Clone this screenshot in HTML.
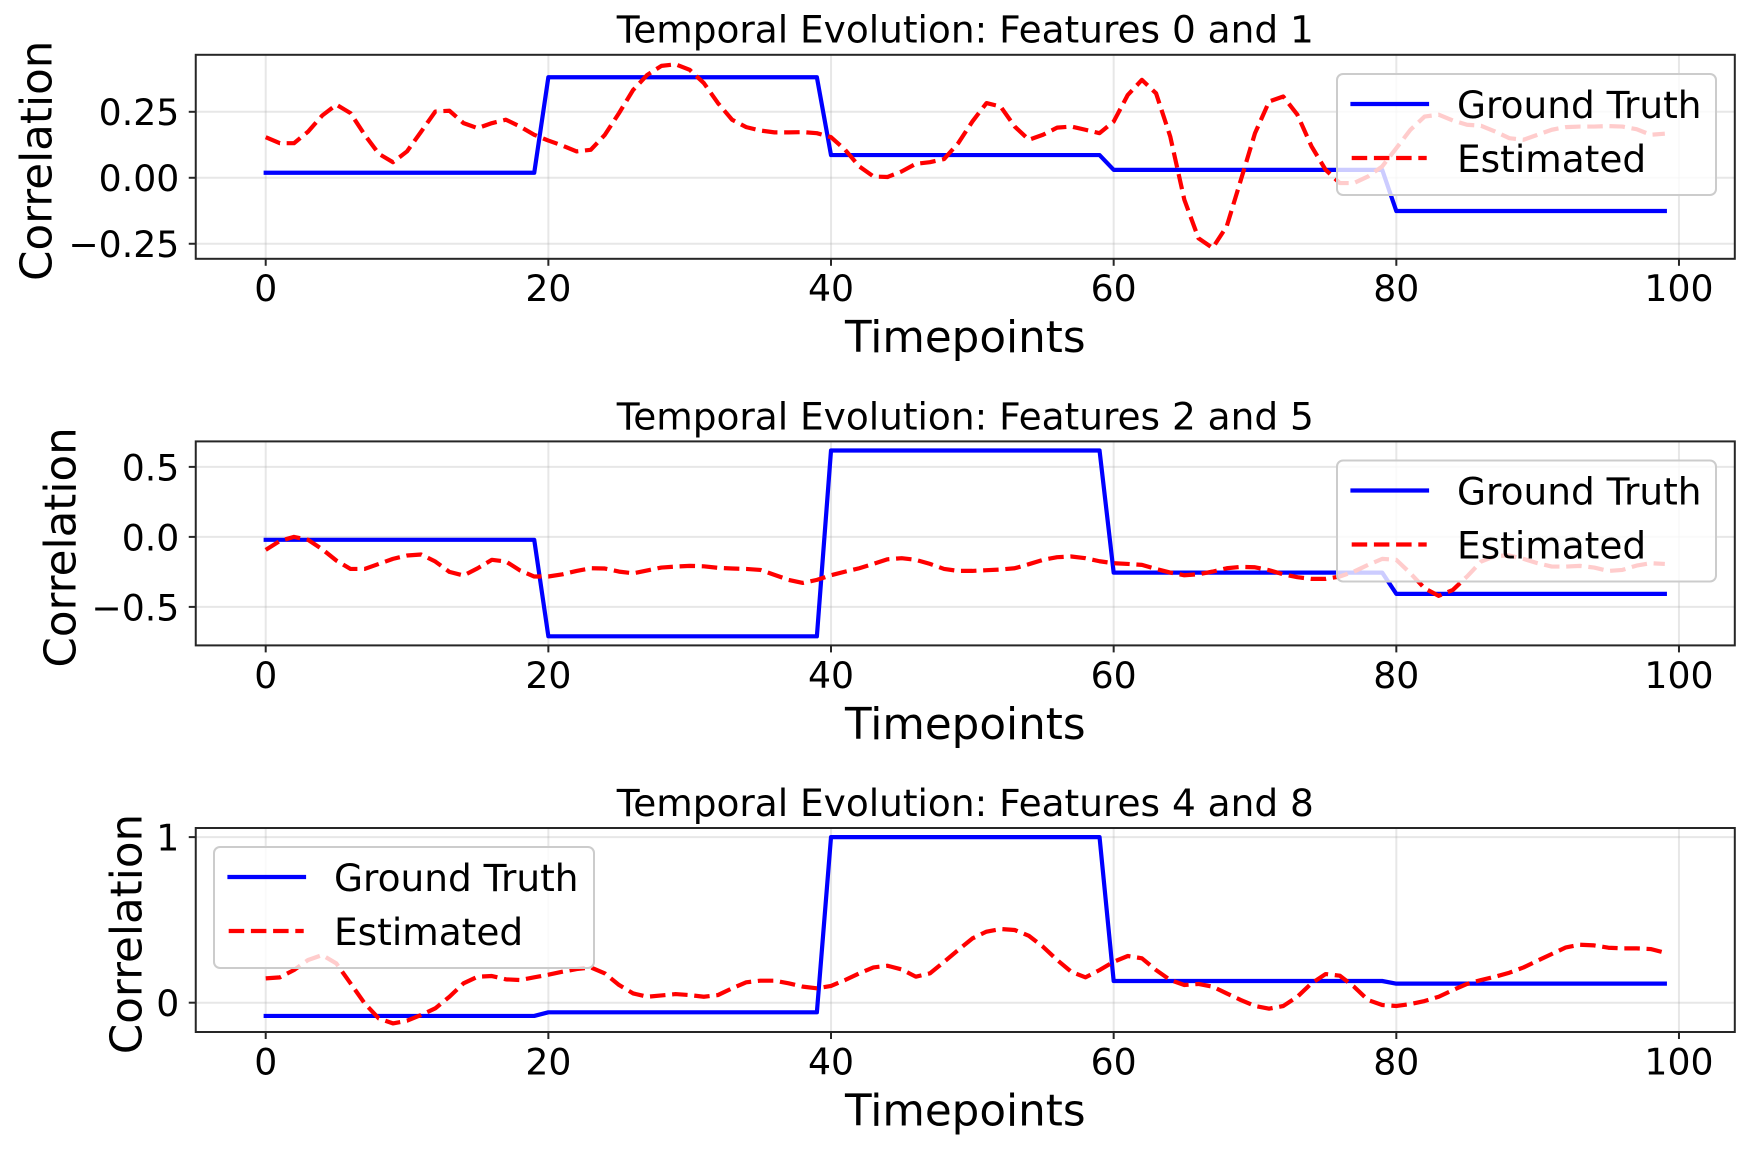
<!DOCTYPE html>
<html lang="en">
<head>
<meta charset="utf-8">
<title>Temporal Evolution of Feature Correlations</title>
<style>
  html, body { margin: 0; padding: 0; background: #fff; }
  svg { display: block; font-family: "DejaVu Sans", "Liberation Sans", sans-serif; }
</style>
</head>
<body>
<svg id="figure" xmlns="http://www.w3.org/2000/svg" width="1749" height="1149" viewBox="0 0 1749 1149"></svg>
<script>
const xTickValues = [0, 20, 40, 60, 80, 100];
const legendLabels = ["Ground Truth", "Estimated"];

const panelTitles = ["Temporal Evolution: Features 0 and 1", "Temporal Evolution: Features 2 and 5", "Temporal Evolution: Features 4 and 8"];

const yTicks0 = [-0.25, 0, 0.25];
const yTickLabels0 = ["\u22120.25", "0.00", "0.25"];
const yTicks1 = [-0.5, 0, 0.5];
const yTickLabels1 = ["\u22120.5", "0.0", "0.5"];
const yTicks2 = [0, 1];
const yTickLabels2 = ["0", "1"];

const groundTruth0 = [
0.019,0.019,0.019,0.019,0.019,0.019,0.019,0.019,0.019,0.019,0.019,0.019,0.019,0.019,0.019,0.019,0.019,0.019,0.019,0.019,
0.381,0.381,0.381,0.381,0.381,0.381,0.381,0.381,0.381,0.381,0.381,0.381,0.381,0.381,0.381,0.381,0.381,0.381,0.381,0.381,
0.086,0.086,0.086,0.086,0.086,0.086,0.086,0.086,0.086,0.086,0.086,0.086,0.086,0.086,0.086,0.086,0.086,0.086,0.086,0.086,
0.03,0.03,0.03,0.03,0.03,0.03,0.03,0.03,0.03,0.03,0.03,0.03,0.03,0.03,0.03,0.03,0.03,0.03,0.03,0.03,
-0.126,-0.126,-0.126,-0.126,-0.126,-0.126,-0.126,-0.126,-0.126,-0.126,-0.126,-0.126,-0.126,-0.126,-0.126,-0.126,-0.126,-0.126,-0.126,-0.126];
const estimated0 = [
0.154,0.131,0.131,0.175,0.236,0.277,0.245,0.163,0.091,0.059,
0.1,0.175,0.251,0.254,0.207,0.188,0.207,0.22,0.194,0.163,
0.141,0.122,0.1,0.106,0.163,0.245,0.333,0.39,0.424,0.43,
0.409,0.359,0.283,0.22,0.192,0.179,0.172,0.172,0.173,0.169,
0.154,0.106,0.043,0.005,0.003,0.024,0.053,0.059,0.071,0.131,
0.213,0.283,0.27,0.194,0.144,0.163,0.19,0.194,0.182,0.169,
0.213,0.314,0.371,0.32,0.157,-0.083,-0.229,-0.266,-0.184,-0.008,
0.169,0.289,0.308,0.239,0.119,0.03,-0.02,-0.02,0.005,0.043,
0.112,0.182,0.232,0.239,0.217,0.201,0.197,0.175,0.15,0.144,
0.163,0.182,0.192,0.194,0.194,0.196,0.194,0.184,0.163,0.167];

const groundTruth1 = [
-0.021,-0.021,-0.021,-0.021,-0.021,-0.021,-0.021,-0.021,-0.021,-0.021,-0.021,-0.021,-0.021,-0.021,-0.021,-0.021,-0.021,-0.021,-0.021,-0.021,
-0.71,-0.71,-0.71,-0.71,-0.71,-0.71,-0.71,-0.71,-0.71,-0.71,-0.71,-0.71,-0.71,-0.71,-0.71,-0.71,-0.71,-0.71,-0.71,-0.71,
0.617,0.617,0.617,0.617,0.617,0.617,0.617,0.617,0.617,0.617,0.617,0.617,0.617,0.617,0.617,0.617,0.617,0.617,0.617,0.617,
-0.255,-0.255,-0.255,-0.255,-0.255,-0.255,-0.255,-0.255,-0.255,-0.255,-0.255,-0.255,-0.255,-0.255,-0.255,-0.255,-0.255,-0.255,-0.255,-0.255,
-0.407,-0.407,-0.407,-0.407,-0.407,-0.407,-0.407,-0.407,-0.407,-0.407,-0.407,-0.407,-0.407,-0.407,-0.407,-0.407,-0.407,-0.407,-0.407,-0.407];
const estimated1 = [
-0.093,-0.029,0,-0.021,-0.088,-0.169,-0.229,-0.229,-0.193,-0.157,
-0.133,-0.126,-0.176,-0.25,-0.276,-0.224,-0.164,-0.176,-0.24,-0.283,
-0.283,-0.267,-0.243,-0.224,-0.226,-0.248,-0.26,-0.24,-0.219,-0.212,
-0.207,-0.21,-0.221,-0.226,-0.229,-0.236,-0.271,-0.307,-0.329,-0.307,
-0.274,-0.248,-0.224,-0.193,-0.16,-0.152,-0.164,-0.193,-0.229,-0.243,
-0.243,-0.238,-0.233,-0.224,-0.195,-0.164,-0.145,-0.14,-0.152,-0.174,
-0.188,-0.193,-0.2,-0.229,-0.255,-0.274,-0.267,-0.248,-0.224,-0.214,
-0.217,-0.238,-0.267,-0.288,-0.3,-0.3,-0.283,-0.248,-0.2,-0.157,
-0.164,-0.26,-0.367,-0.421,-0.379,-0.283,-0.176,-0.136,-0.133,-0.157,
-0.188,-0.212,-0.212,-0.207,-0.219,-0.243,-0.236,-0.205,-0.188,-0.193];

const groundTruth2 = [
-0.08,-0.08,-0.08,-0.08,-0.08,-0.08,-0.08,-0.08,-0.08,-0.08,-0.08,-0.08,-0.08,-0.08,-0.08,-0.08,-0.08,-0.08,-0.08,-0.08,
-0.058,-0.058,-0.058,-0.058,-0.058,-0.058,-0.058,-0.058,-0.058,-0.058,-0.058,-0.058,-0.058,-0.058,-0.058,-0.058,-0.058,-0.058,-0.058,-0.058,
1,1,1,1,1,1,1,1,1,1,1,1,1,1,1,1,1,1,1,1,
0.131,0.131,0.131,0.131,0.131,0.131,0.131,0.131,0.131,0.131,0.131,0.131,0.131,0.131,0.131,0.131,0.131,0.131,0.131,0.131,
0.115,0.115,0.115,0.115,0.115,0.115,0.115,0.115,0.115,0.115,0.115,0.115,0.115,0.115,0.115,0.115,0.115,0.115,0.115,0.115];
const estimated2 = [
0.147,0.153,0.197,0.258,0.288,0.237,0.117,-0.004,-0.095,-0.125,
-0.109,-0.074,-0.034,0.036,0.117,0.157,0.161,0.141,0.137,0.153,
0.169,0.187,0.203,0.213,0.177,0.107,0.056,0.036,0.044,0.052,
0.046,0.036,0.046,0.087,0.123,0.133,0.133,0.117,0.097,0.087,
0.101,0.137,0.177,0.213,0.223,0.201,0.157,0.177,0.247,0.318,
0.388,0.429,0.445,0.439,0.404,0.338,0.258,0.187,0.153,0.197,
0.247,0.282,0.268,0.197,0.137,0.107,0.113,0.097,0.056,0.016,
-0.02,-0.036,-0.02,0.036,0.117,0.173,0.163,0.097,0.016,-0.014,
-0.02,-0.008,0.01,0.036,0.076,0.113,0.137,0.157,0.181,0.213,
0.254,0.294,0.334,0.35,0.346,0.332,0.328,0.328,0.324,0.302];

const panels = [
  { title: panelTitles[0], top: 54.8, bottom: 258.8, yMin: -0.307, yMax: 0.466, ticks: yTicks0, tickLabels: yTickLabels0, truth: groundTruth0, est: estimated0, yLabelX: 51.5, legendX: 1337, legendY: 74, legendW: 379 },
  { title: panelTitles[1], top: 441.4, bottom: 645.4, yMin: -0.775, yMax: 0.682, ticks: yTicks1, tickLabels: yTickLabels1, truth: groundTruth1, est: estimated1, yLabelX: 75.5, legendX: 1337, legendY: 460.5, legendW: 379 },
  { title: panelTitles[2], top: 828, bottom: 1032, yMin: -0.177, yMax: 1.055, ticks: yTicks2, tickLabels: yTickLabels2, truth: groundTruth2, est: estimated2, yLabelX: 141.5, legendX: 214, legendY: 847, legendW: 380 }
];

const svgNS = "http://www.w3.org/2000/svg";
const figure = document.getElementById("figure");
const axLeft = 195.75, axRight = 1734.8, xMin = -4.95, xMax = 103.95;
const tickFont = 36.2, labelFont = 43.6, titleFont = 37.45, legendFont = 37.45;
const gridColor = "#b0b0b0", spineColor = "#262626";
const thin = 2;

function make(parent, tag, attrs, text) {
  const el = document.createElementNS(svgNS, tag);
  for (const k in attrs) el.setAttribute(k, attrs[k]);
  if (text !== undefined) el.textContent = text;
  parent.appendChild(el);
  return el;
}
function xScale(v) { return axLeft + (v - xMin) / (xMax - xMin) * (axRight - axLeft); }
function yScaleFor(p) { return function (v) { return p.bottom - (v - p.yMin) / (p.yMax - p.yMin) * (p.bottom - p.top); }; }
function linePath(values, yScale) {
  return values.map(function (v, i) { return (i ? "L" : "M") + xScale(i).toFixed(2) + " " + yScale(v).toFixed(2); }).join("");
}

panels.forEach(function (p, idx) {
  const yScale = yScaleFor(p);
  const g = make(figure, "g", {});
  
  

  // grid
  xTickValues.forEach(function (t) {
    const line = make(g, "line", { x1: xScale(t), x2: xScale(t), y1: p.top, y2: p.bottom, stroke: gridColor, "stroke-opacity": 0.3, "stroke-width": thin });
    
    
  });
  p.ticks.forEach(function (t) {
    const line = make(g, "line", { x1: axLeft, x2: axRight, y1: yScale(t), y2: yScale(t), stroke: gridColor, "stroke-opacity": 0.3, "stroke-width": thin });
    
    
  });

  // series
  const truthLine = make(g, "path", { d: linePath(p.truth, yScale), fill: "none", stroke: "#0000ff", "stroke-width": 4.2, "stroke-linejoin": "round", "stroke-linecap": "square" });
  
  
  const estLine = make(g, "path", { d: linePath(p.est, yScale), fill: "none", stroke: "#ff0000", "stroke-width": 4.2, "stroke-linejoin": "round", "stroke-dasharray": "15.5 6.7" });
  
  

  // ticks
  xTickValues.forEach(function (t) {
    const tick = make(g, "line", { x1: xScale(t), x2: xScale(t), y1: p.bottom, y2: p.bottom + 7, stroke: spineColor, "stroke-width": thin });
    
    
    const label = make(g, "text", { x: xScale(t), y: p.bottom + 42.4, "text-anchor": "middle", "font-size": tickFont, fill: "#000" }, String(t));
    
    
  });
  p.ticks.forEach(function (t, i) {
    const tick = make(g, "line", { x1: axLeft - 7, x2: axLeft, y1: yScale(t), y2: yScale(t), stroke: spineColor, "stroke-width": thin });
    
    
    const label = make(g, "text", { x: axLeft - 16.5, y: yScale(t) + 13.4, "text-anchor": "end", "font-size": tickFont, fill: "#000" }, p.tickLabels[i]);
    
    
  });

  // frame
  const frame = make(g, "rect", { x: axLeft, y: p.top, width: axRight - axLeft, height: p.bottom - p.top, fill: "none", stroke: spineColor, "stroke-width": thin });
  
  

  // labels
  const title = make(g, "text", { x: (axLeft + axRight) / 2, y: p.top - 12.1, "text-anchor": "middle", "font-size": titleFont, fill: "#000" }, p.title);
  
  
  const xLabel = make(g, "text", { x: (axLeft + axRight) / 2, y: p.bottom + 93.4, "text-anchor": "middle", "font-size": labelFont, fill: "#000" }, "Timepoints");
  
  
  const midY = (p.top + p.bottom) / 2 + 4;
  const yLabel = make(g, "text", { x: p.yLabelX, y: midY, "text-anchor": "middle", "font-size": labelFont, fill: "#000", transform: "rotate(-90 " + p.yLabelX + " " + midY + ")" }, "Correlation");
  
  

  // legend
  const legend = make(g, "g", {});
  
  
  const box = make(legend, "rect", { x: p.legendX, y: p.legendY, width: p.legendW, height: 121, rx: 6, ry: 6, fill: "#fff", "fill-opacity": 0.8, stroke: "#cccccc", "stroke-width": 2 });
  
  
  const h1 = make(legend, "line", { x1: p.legendX + 15.5, x2: p.legendX + 90, y1: p.legendY + 30, y2: p.legendY + 30, stroke: "#0000ff", "stroke-width": 4.2, "stroke-linecap": "square" });
  
  
  const t1 = make(legend, "text", { x: p.legendX + 120, y: p.legendY + 44, "font-size": legendFont, fill: "#000" }, legendLabels[0]);
  
  
  const h2 = make(legend, "line", { x1: p.legendX + 14.7, x2: p.legendX + 89.7, y1: p.legendY + 84, y2: p.legendY + 84, stroke: "#ff0000", "stroke-width": 4.2, "stroke-dasharray": "15.5 6.7" });
  
  
  const t2 = make(legend, "text", { x: p.legendX + 120, y: p.legendY + 98, "font-size": legendFont, fill: "#000" }, legendLabels[1]);
  
  
});
</script>
</body>
</html>
